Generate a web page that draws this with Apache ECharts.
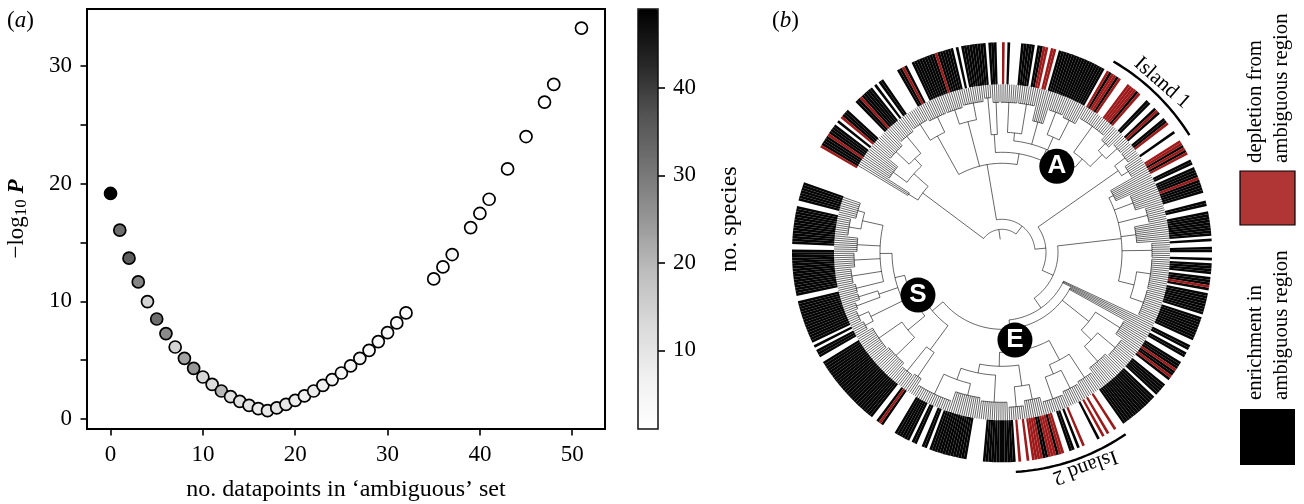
<!DOCTYPE html>
<html><head><meta charset="utf-8">
<script src="https://cdn.jsdelivr.net/npm/echarts@6/dist/echarts.min.js"></script>
<style>html,body{margin:0;padding:0;background:#fff}#c{width:1304px;height:504px}</style>
</head><body><div id="c"></div>
<script>
// ---------- panel (a) ----------
const nAmbiguous = [0,1,2,3,4,5,6,7,8,9,10,11,12,13,14,15,16,17,18,19,20,21,22,23,24,25,26,27,28,29,30,31,32,35,36,37,39,40,41,43,45,47,48,51];
const minusLogP = [19.17,16.05,13.67,11.65,9.98,8.5,7.26,6.12,5.16,4.31,3.57,2.95,2.38,1.9,1.5,1.16,0.88,0.71,0.94,1.25,1.59,1.96,2.38,2.86,3.35,3.91,4.51,5.16,5.84,6.58,7.34,8.17,9.02,11.91,12.93,13.98,16.27,17.47,18.68,21.26,24.01,26.94,28.44,33.23];
const noSpecies = [49,32,35,28,14,32,27,14,23,25,13,12,20,11,11,10,8,9,10,9,8,7,8,7,5,5,5,5,4,4,4,3,3,2,2,5,2,1,1,1,1,1,1,1];
const xTicks = [0,10,20,30,40,50];
const yLabelTicks = [0,10,20,30];
const yTickMarks = [0,5,10,15,20,25,30];
const barTicks = [10,20,30,40];
const greys = ['#ffffff','#f0f0f0','#d9d9d9','#bdbdbd','#969696','#737373','#525252','#252525','#000000'];

// ---------- panel (b): ring, in bearing degrees clockwise from north ----------
const tipCount = 480;
const blackRuns = [[300.9,303.4],[304.2,307.8],[308.4,309.3],[310.7,313.1],[315.4,317.5],[318.3,322],[322.7,323.4],[324.2,325.8],[330.2,331.4],[332.2,332.9],[334.2,341.5],[342.3,346.7],[347.5,348.2],[349,355.4],[356.1,358.6],[1.3,2.2],[5.4,8.8],[9.7,11.2],[15.9,29.6],[31,31.8],[33.2,34],[39.7,40.4],[43.5,45],[46.3,47],[48.2,48.9],[50.4,51.8],[54.5,55.5],[59,59.7],[60.5,61.2],[63.9,65.2],[66,68.8],[69.6,73.6],[75.5,76.9],[78.9,85.2],[85.9,87.2],[88.6,90.1],[91.6,92.4],[92.9,96.2],[96.9,98.7],[99.5,100.3],[101.3,106.9],[108.1,114.9],[116.1,117.7],[118.5,120.3],[121.5,124],[124.8,125.9],[126.7,127.4],[129,132.8],[133.7,145],[152.3,153.3],[158,159],[160,161],[164.3,165.2],[167.1,168.5],[176.2,185.5],[189.7,198.4],[198.9,200.1],[200.8,202.5],[203.7,205.5],[206.3,208.9],[209.6,210.9],[214.4,214.9],[215.7,217],[218.4,238.8],[240,242],[242.8,243.8],[244.6,256.8],[257.8,271.1],[271.9,273.4],[274.1,282.5],[284.1,289.7]];
const redRuns = [[300,300.9],[303.4,304.2],[309.9,310.7],[317.5,318.3],[331.4,332.2],[341.5,342.3],[0,0.9],[11.2,12.6],[13.7,15.3],[30.3,31],[31.8,33.2],[34,34.8],[36.5,39.7],[40.4,41],[47,48.2],[51.8,52.6],[57.7,59],[59.7,60.5],[61.2,62.3],[68.8,69.6],[98.7,99.5],[124,124.8],[125.9,126.7],[147.2,148],[149.4,150.2],[151,151.8],[156.4,157.2],[162.5,164.3],[165.2,167.1],[169.1,171.7],[172.3,173.2],[174.6,175.5],[214.9,215.7]];

// ---------- panel (b): dendrogram. node = [radius, child, child...], comb of tips = [fromBearing, toBearing, baseRadius] ----------
const cladeUpperLeft = [99,[-59.6,-57,110],[118,[-57,-50,135],[128,[-50,-43,146],[-43,-36,150]]]];
const cladeTopA = [133,[-36,-29,152],[-29,-22,150]];
const cladeTopB = [135,[-22,-15,150],[-15,-7,152]];
const cladeA = [100,[118,[-7,-4,155],[-4,-1,150]],[112,[120,[-1,6,150],[6,13,150]],[13,18,135],[126,[18,24,150],[24,30,148]],[123,[30,41,155],[140,[41,46,150],[46,50,155]]]]];
const cladeRightUpper = [142,[50,55,155],[55,60,150]];
const cladeRightMid = [120,[60,66,125],[66,73,140],[73,79,150],[79,86,135],[86,92,150],[136,[92,104,150],[104,114.5,150]]];
const cladeLower = [111,[119,126,140],[125,[126,134,148],[134,143,145]]];
const cladeE = [100,[122,[143,150,150],[132,[150,157,152],[157,165,155]]],[114,[135,[165,172,150],[172,178,155]],[123,[178,188,150],[135,[188,199,147],[199,212,157]]]]];
const cladeS = [91,[121,[212,216,150],[216,221,152]],[100,[122,[221,230,148],[230,240,150]],[110,[146,[240,244,155],[244,248,157]],[130,[248,251,155],[251,254,150]],[122,[254,258,150],[258,264,152],[264,270,148],[270,276,145],[143,[276,283,155],[283,289.8,150]]]]]];
const treeRoot = [23,cladeUpperLeft,[33,[89,cladeTopA,cladeTopB,cladeA],[44,cladeRightUpper,[56,cladeRightMid,[68,[114.5,117,68],[77,[117,119,77],cladeLower,cladeE,cladeS]]]]]];
const rootStemBase = 13;
const tipRadius = 168;
const ringInner = 168, ringOuter = 210;
// clade badges: [radius, bearing, name]
const badges = [[102,32.5,'A'],[94.3,243,'S'],[88.7,171.6,'E']];
// island brackets: [fromBearing, toBearing, radius]
const islands = [[30.3,58,221],[145.8,176.4,220]];

// ---------- derived ----------
const step = 360/tipCount;
const ringBlack = new Array(tipCount).fill(null), ringRed = new Array(tipCount).fill(null);
function paint(runs, target, other){
  runs.forEach(([a,b])=>{
    const s=Math.round(a/step), e=Math.max(s+1,Math.round(b/step));
    for(let i=s;i<e;i++){ target[i%tipCount]=ringOuter-ringInner; if(other) other[i%tipCount]=null; }
  });
}
paint(blackRuns, ringBlack);
paint(redRuns, ringRed, ringBlack);
const tipIndex = Array.from({length:tipCount},(_,i)=>i);
const ringBase = tipIndex.map(()=>ringInner);
const tipBearings = tipIndex.map(i=>{const a=(i+.5)*step;return a>295?a-360:a;}).sort((p,q)=>p-q);
const segments = [];
function walk(n){
  if(!Array.isArray(n[1])){
    const tips=tipBearings.filter(a=>a>=n[0]&&a<n[1]);
    const a0=tips[0],a1=tips[tips.length-1];
    if(a1>a0) segments.push([a0,a1,n[2],n[2]]);
    tips.forEach(a=>segments.push([a,a,n[2],tipRadius]));
    return {a:(a0+a1)/2,r:n[2]};
  }
  const kids=n.slice(1).map(walk);
  const a0=kids[0].a,a1=kids[kids.length-1].a;
  segments.push([a0,a1,n[0],n[0]]);
  kids.forEach(k=>segments.push([k.a,k.a,n[0],k.r]));
  return {a:(a0+a1)/2,r:n[0]};
}
const rootInfo = walk(treeRoot);
segments.push([rootInfo.a,rootInfo.a,rootStemBase,rootInfo.r]);

function wrap(a){return ((a%360)+360)%360;}
function pathItem(width,color){
  return function(params,api){
    const a0=api.value(0),a1=api.value(1),r0=api.value(2),r1=api.value(3);
    const pts=[];
    if(r0===r1){
      const n=Math.max(1,Math.ceil(Math.abs(a1-a0)/1.5));
      for(let i=0;i<=n;i++) pts.push(api.coord([r0,wrap(a0+(a1-a0)*i/n)]));
    } else { pts.push(api.coord([r0,wrap(a0)]),api.coord([r1,wrap(a0)])); }
    return {type:'polyline',silent:true,shape:{points:pts},style:{fill:null,stroke:color,lineWidth:width,lineCap:'butt'}};
  };
}

const serif = '"Liberation Serif","Times New Roman",serif';
const ringItem = (c)=>({color:c,borderWidth:0});
const chart = echarts.init(document.getElementById('c'),null,{renderer:'canvas'});
chart.setOption({
  animation:false,
  backgroundColor:'#fff',
  textStyle:{fontFamily:serif,color:'#000'},
  grid:[
    {left:87,top:9,width:518,height:420,show:true,borderColor:'#000',borderWidth:2,backgroundColor:'transparent',z:1,outerBoundsMode:'none'},
    {left:638,top:9,width:20,height:420,show:true,borderColor:'#111',borderWidth:1.5,backgroundColor:'transparent',z:10,outerBoundsMode:'none'}
  ],
  xAxis:[
    {gridIndex:0,type:'value',min:-2.55,max:53.55,splitLine:{show:false},axisLine:{show:false,onZero:false},
     axisTick:{customValues:xTicks,length:6.5,lineStyle:{color:'#000',width:1.6}},
     axisLabel:{customValues:xTicks,fontFamily:serif,fontSize:23,color:'#000',margin:14},
     name:'no. datapoints in ‘ambiguous’ set',nameLocation:'middle',nameGap:49,nameTextStyle:{fontFamily:serif,fontSize:24,color:'#000'}},
    {gridIndex:1,type:'value',min:0,max:1,show:false}
  ],
  yAxis:[
    {gridIndex:0,type:'value',min:-0.85,max:34.85,splitLine:{show:false},axisLine:{show:false,onZero:false},
     axisTick:{customValues:yTickMarks,length:6.5,lineStyle:{color:'#000',width:1.6}},
     axisLabel:{customValues:yLabelTicks,fontFamily:serif,fontSize:23,color:'#000',margin:15},
     name:'{m|−log}{s|10}{m| }{p|P}',nameLocation:'middle',nameGap:57,nameRotate:90,
     nameTextStyle:{fontFamily:serif,rich:{m:{fontFamily:serif,fontSize:23,color:'#000'},s:{fontFamily:serif,fontSize:17,color:'#000',verticalAlign:'bottom',padding:[9,0,0,0]},p:{fontFamily:serif,fontSize:23,fontStyle:'italic',fontWeight:'bold',color:'#000'}}}},
    {gridIndex:1,type:'value',min:1,max:49,position:'right',splitLine:{show:false},axisLine:{show:false,onZero:false},
     axisTick:{customValues:barTicks,length:7,lineStyle:{color:'#000',width:1.6}},
     axisLabel:{customValues:barTicks,fontFamily:serif,fontSize:23,color:'#000',margin:15},
     name:'no. species',nameLocation:'middle',nameGap:60,nameRotate:90,nameTextStyle:{fontFamily:serif,fontSize:24,color:'#000'}}
  ],
  visualMap:[{type:'continuous',seriesIndex:0,dimension:2,min:1,max:49,calculable:false,left:638,top:9,padding:0,
    itemWidth:20,itemHeight:420,text:['',''],showLabel:false,inRange:{color:greys},hoverLink:false}],
  polar:[
    {center:[1002,252.3],radius:[0,ringOuter]},
    {center:[1002,252.3],radius:[0,225]}
  ],
  angleAxis:[
    {polarIndex:0,type:'category',data:tipIndex,startAngle:90,clockwise:true,show:false},
    {polarIndex:1,type:'value',min:0,max:360,startAngle:90,clockwise:true,show:false}
  ],
  radiusAxis:[
    {polarIndex:0,type:'value',min:0,max:ringOuter,show:false},
    {polarIndex:1,type:'value',min:0,max:225,show:false}
  ],
  series:[
    {type:'scatter',xAxisIndex:0,yAxisIndex:0,symbol:'circle',symbolSize:12,
     data:nAmbiguous.map((x,i)=>[x,minusLogP[i],noSpecies[i]]),
     itemStyle:{borderColor:'#000',borderWidth:1.7,opacity:1}},
    {type:'bar',coordinateSystem:'polar',polarIndex:0,stack:'ring',data:ringBase,barCategoryGap:'0%',silent:true,itemStyle:{color:'rgba(0,0,0,0)'}},
    {type:'bar',coordinateSystem:'polar',polarIndex:0,stack:'ring',data:ringBlack,silent:true,itemStyle:ringItem('#050505')},
    {type:'bar',coordinateSystem:'polar',polarIndex:0,stack:'ring',data:ringRed,silent:true,itemStyle:ringItem('#9e1a1a')},
    {type:'custom',coordinateSystem:'polar',polarIndex:1,silent:true,clip:false,data:segments,encode:{radius:2,angle:0},renderItem:pathItem(0.6,'#000')},
    {type:'custom',coordinateSystem:'polar',polarIndex:1,silent:true,clip:false,z:3,data:islands.map(d=>[d[0],d[1],d[2],d[2]]),encode:{radius:2,angle:0},renderItem:pathItem(2.4,'#000')},
    {type:'scatter',coordinateSystem:'polar',polarIndex:1,z:5,symbol:'circle',symbolSize:35,silent:true,
     data:badges.map(b=>({value:[b[0],b[1]],name:b[2]})),itemStyle:{color:'#000',opacity:1},
     label:{show:true,position:'inside',formatter:'{b}',color:'#fff',fontFamily:'"Liberation Sans",Arial,sans-serif',fontWeight:'bold',fontSize:26}}
  ],
  graphic:[
    {type:'text',left:7,top:9,style:{text:'({i|a})',font:'23px '+serif,fill:'#000',rich:{i:{fontFamily:serif,fontStyle:'italic',fontSize:23,fill:'#000'}}}},
    {type:'text',left:772,top:9,style:{text:'({i|b})',font:'23px '+serif,fill:'#000',rich:{i:{fontFamily:serif,fontStyle:'italic',fontSize:23,fill:'#000'}}}},
    {type:'text',x:1162,y:83,rotation:-0.72,style:{text:'Island 1',font:'21px '+serif,fill:'#000',align:'center',verticalAlign:'middle'}},
    {type:'text',x:1085,y:467,rotation:3.49,style:{text:'Island 2',font:'21px '+serif,fill:'#000',align:'center',verticalAlign:'middle'}},
    {type:'rect',shape:{x:1240,y:171,width:55,height:54},style:{fill:'#b03535',stroke:'#000',lineWidth:1.2}},
    {type:'rect',shape:{x:1240,y:409,width:55,height:56},style:{fill:'#000'}},
    {type:'text',x:1256,y:163,rotation:Math.PI/2,style:{text:'depletion from',font:'20.8px '+serif,fill:'#000',align:'left',verticalAlign:'middle'}},
    {type:'text',x:1282,y:163,rotation:Math.PI/2,style:{text:'ambiguous region',font:'20.8px '+serif,fill:'#000',align:'left',verticalAlign:'middle'}},
    {type:'text',x:1256,y:400,rotation:Math.PI/2,style:{text:'enrichment in',font:'20.8px '+serif,fill:'#000',align:'left',verticalAlign:'middle'}},
    {type:'text',x:1282,y:400,rotation:Math.PI/2,style:{text:'ambiguous region',font:'20.8px '+serif,fill:'#000',align:'left',verticalAlign:'middle'}}
  ]
});
</script></body></html>
